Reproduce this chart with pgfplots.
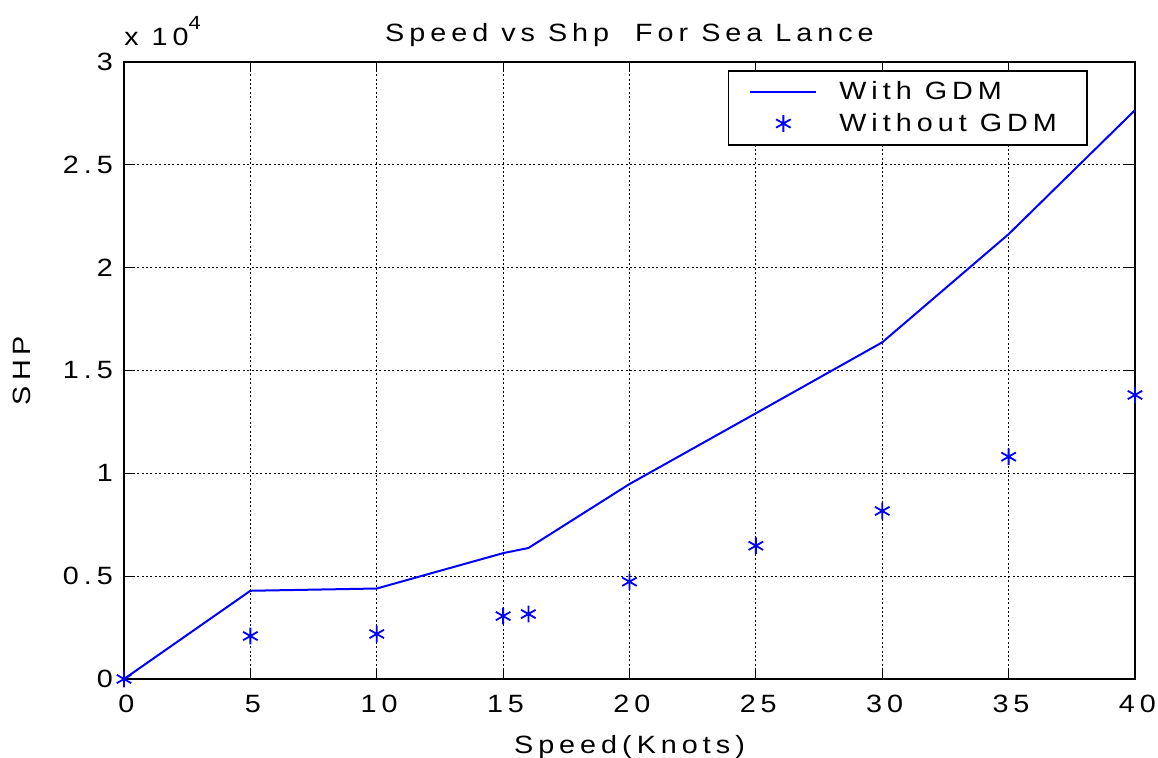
\documentclass[border=0pt]{standalone}
\usepackage{fontspec}
\setmainfont[LetterSpace=20, FakeStretch=1.15]{Liberation Sans}
\usepackage{pgfplots}
\pgfplotsset{compat=1.18}
\definecolor{mblue}{RGB}{0,0,255}
\begin{document}
\begin{tikzpicture}
\begin{axis}[
  scale only axis, width=505.5pt, height=308.5pt,
  at={(62pt,39pt)}, anchor=south west,
  xmin=0, xmax=40, ymin=0, ymax=3,
  xtick={0,5,...,40}, ytick={0,0.5,...,3},
  xticklabels={0,5,10,15,20,25,30,35,40},
  yticklabels={0,0.5,1,1.5,2,2.5,3},
  grid=major,
  grid style={black, line width=0.6pt, dash pattern=on 1pt off 1.2pt},
  axis line style={black, line width=1pt},
  tick style={black, line width=0.6pt}, tick align=inside, major tick length=5pt,
  xtick pos=both, ytick pos=both,
  font=\fontsize{12.5}{14.5}\selectfont,
  /pgf/number format/assume math mode=true,
  xticklabel style={yshift=-4.5pt, xshift=1.2pt},
  yticklabel style={xshift=-2pt},
  title={Speed vs Shp\ \ For Sea Lance},
  title style={yshift=-2pt},
  xlabel={Speed(Knots)}, ylabel={SHP},
  xlabel style={yshift=-4.5pt},
  every axis y label/.style={at={(rel axis cs:0,0.5)}, rotate=90,
    anchor=center, yshift=51pt},
  legend cell align=left,
  legend style={at={(rel axis cs:0.597,0.987)}, anchor=north west,
    draw=black, line width=0.8pt, font=\fontsize{12.5}{14.5}\selectfont,
    inner xsep=4pt, inner ysep=3.5pt, row sep=1pt,
    nodes={inner xsep=11pt}},
  clip=false,
]
% SHP in units of 10^4
\addplot[mblue, line width=1pt,
  legend image code/.code={\path[draw=none] (0pt,0pt) -- (40pt,0pt);
    \draw[mblue, line width=1pt] (7pt,0pt) -- (40pt,0pt);}]
  coordinates {(0,0) (5,0.429) (10,0.440) (15,0.612) (16,0.637) (20,0.948)
               (25,1.292) (30,1.637) (35,2.163) (40,2.766)};
\addlegendentry{With GDM}
\addplot[only marks, mblue, mark=asterisk, mark size=4.2pt, line width=0.9pt,
  legend image code/.code={\path[draw=none] (0pt,0pt) -- (40pt,0pt);
    \draw[mblue, line width=0.9pt] plot[mark=asterisk, mark size=4.2pt] coordinates {(23.5pt,0pt)};}]
  coordinates {(0,0) (5,0.209) (10,0.219) (15,0.306) (16,0.316) (20,0.473)
               (25,0.648) (30,0.817) (35,1.081) (40,1.381)};
\addlegendentry{Without GDM}
\node[anchor=south west, inner sep=0pt, font=\fontsize{12.5}{14.5}\selectfont]
  at (rel axis cs:0,1) [yshift=8pt] {x 10\raisebox{1.2ex}{\fontsize{9.5}{11}\selectfont 4}};
\end{axis}
\pgfresetboundingbox
\path[use as bounding box] (0,0) rectangle (579pt,378.5pt);
\end{tikzpicture}
\end{document}
